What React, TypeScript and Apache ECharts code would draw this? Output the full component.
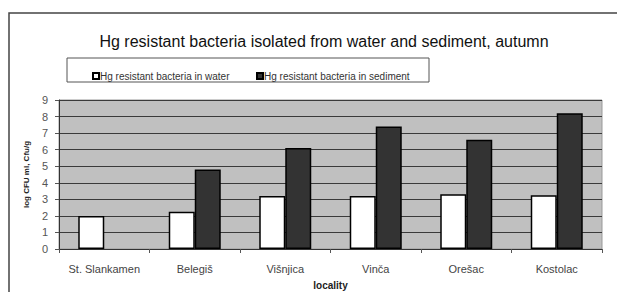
import React, { useEffect, useRef } from "react";
import * as echarts from "echarts";

const categories = ["St. Slankamen", "Belegiš", "Višnjica", "Vinča", "Orešac", "Kostolac"];
const waterValues = [2.0, 2.25, 3.2, 3.2, 3.3, 3.25];
const sedimentValues: (number | null)[] = [null, 4.8, 6.1, 7.4, 6.6, 8.2];
const seriesNames = ["Hg resistant bacteria in water", "Hg resistant bacteria in sediment"];
const titleText = "Hg resistant bacteria isolated from water and sediment, autumn";

export default function App() {
  const ref = useRef<HTMLDivElement>(null);
  useEffect(() => {
    if (!ref.current) return;
    const chart = echarts.init(ref.current, null, { renderer: "svg" });
    const legendCommon = {
      top: 66,
      itemWidth: 6,
      itemHeight: 6,
      icon: "rect",
      textStyle: { fontSize: 10, color: "#333", padding: [0, 0, 0, -4] },
    };
    chart.setOption({
      animation: false,
      backgroundColor: "#ffffff",
      textStyle: { fontFamily: "Liberation Sans, Arial, sans-serif" },
      title: {
        text: titleText,
        left: 319,
        textAlign: "center",
        top: 28,
        textStyle: { fontSize: 16, fontWeight: "normal", color: "#111" },
      },
      graphic: [
        {
          type: "rect",
          shape: { x: 9, y: 13, width: 640, height: 320 },
          style: { fill: "none", stroke: "#444", lineWidth: 1.5 },
          silent: true,
        },
        {
          type: "rect",
          shape: { x: 67, y: 58, width: 362, height: 24 },
          style: { fill: "#fff", stroke: "#555", lineWidth: 1 },
          silent: true,
        },
      ],
      legend: [
        { ...legendCommon, left: 87, data: [seriesNames[0]] },
        { ...legendCommon, left: 251, data: [seriesNames[1]] },
      ],
      grid: {
        left: 59,
        right: 15,
        top: 100,
        bottom: 43,
        show: true,
        backgroundColor: "#c0c0c0",
        borderColor: "#999",
        borderWidth: 1,
        outerBoundsMode: "none",
      },
      xAxis: {
        type: "category",
        data: categories,
        name: "locality",
        nameLocation: "middle",
        nameGap: 31,
        nameTextStyle: { fontSize: 10, fontWeight: "bold", color: "#222" },
        axisLine: { lineStyle: { color: "#333", width: 1 } },
        axisTick: { show: true, length: 4, lineStyle: { color: "#555" } },
        axisLabel: { fontSize: 11, color: "#444", margin: 14, interval: 0 },
      },
      yAxis: {
        type: "value",
        min: 0,
        max: 9,
        interval: 1,
        name: "log CFU ml, Cfu/g",
        nameLocation: "middle",
        nameGap: 26,
        nameTextStyle: { fontSize: 8, fontWeight: "bold", color: "#222" },
        axisLine: { show: true, lineStyle: { color: "#333", width: 1 } },
        axisTick: { show: true, length: 4, lineStyle: { color: "#555" } },
        axisLabel: { fontSize: 11, color: "#555", margin: 11 },
        splitLine: { lineStyle: { color: "#3a3a3a", width: 1 } },
      },
      series: [
        {
          name: seriesNames[0],
          type: "bar",
          data: waterValues,
          barWidth: 26,
          barGap: "0%",
          itemStyle: { color: "#ffffff", borderColor: "#000", borderWidth: 1.5 },
        },
        {
          name: seriesNames[1],
          type: "bar",
          data: sedimentValues,
          barWidth: 26,
          barGap: "0%",
          itemStyle: { color: "#333333", borderColor: "#000", borderWidth: 1.5 },
        },
      ],
    });
    return () => chart.dispose();
  }, []);
  return (
    <div
      ref={ref}
      style={{ position: "fixed", left: 0, top: 0, width: 617, height: 292 }}
    />
  );
}
